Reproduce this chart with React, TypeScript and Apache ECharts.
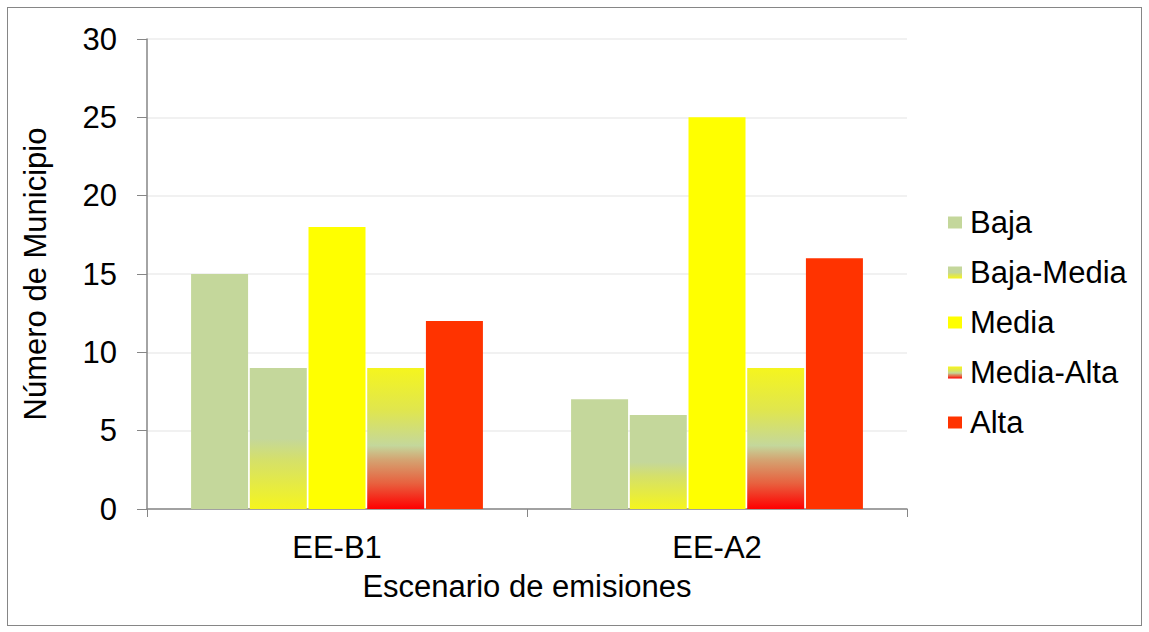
import React, { useEffect, useRef } from "react";
import * as echarts from "echarts";

const categories = ["EE-B1", "EE-A2"];
const seriesNames = ["Baja", "Baja-Media", "Media", "Media-Alta", "Alta"];
const baja = [15, 7];
const bajaMedia = [9, 6];
const media = [18, 25];
const mediaAlta = [9, 9];
const alta = [12, 16];
const yTicks = [0, 5, 10, 15, 20, 25, 30];

const FONT = "'Liberation Sans', Arial, sans-serif";
const FS = 31;

const lg = (stops: [number, string][]) =>
  new echarts.graphic.LinearGradient(
    0,
    0,
    0,
    1,
    stops.map(([offset, color]) => ({ offset, color }))
  );

export default function App() {
  const ref = useRef<HTMLDivElement>(null);
  useEffect(() => {
    if (!ref.current) return;
    const chart = echarts.init(ref.current, null, { renderer: "svg" });
    const colors = [
      "#c4d79b",
      lg([
        [0, "#c4d79b"],
        [0.5, "#c4d79b"],
        [0.65, "#d5e06a"],
        [1, "#f5f51e"],
      ]),
      "#ffff00",
      lg([
        [0, "#f5f51e"],
        [0.3, "#e0e64e"],
        [0.55, "#c4d79b"],
        [0.65, "#d4a472"],
        [0.82, "#e8603e"],
        [1, "#ff0000"],
      ]),
      "#ff3300",
    ];
    const data = [baja, bajaMedia, media, mediaAlta, alta];
    chart.setOption({
      animation: false,
      grid: { left: 139, top: 31, width: 760, height: 470, containLabel: false },
      legend: {
        orient: "vertical",
        left: 935,
        top: 194,
        itemWidth: 14,
        itemHeight: 12,
        itemGap: 19,
        icon: "rect",
        data: seriesNames,
        textStyle: { fontFamily: FONT, fontSize: FS, color: "#000", padding: [0, 0, 0, 3] },
      },
      xAxis: {
        type: "category",
        data: categories,
        name: "Escenario de emisiones",
        nameLocation: "middle",
        nameGap: 62,
        nameTextStyle: { fontFamily: FONT, fontSize: FS, color: "#000" },
        axisLine: { lineStyle: { color: "#868686", width: 1.5 } },
        axisTick: { show: true, length: 8, lineStyle: { color: "#868686" } },
        axisLabel: { fontFamily: FONT, fontSize: FS, color: "#000", margin: 23 },
      },
      yAxis: {
        type: "value",
        min: 0,
        max: 30,
        interval: 5,
        name: "Número de Municipio",
        nameLocation: "middle",
        nameGap: 96,
        nameTextStyle: { fontFamily: FONT, fontSize: FS, color: "#000" },
        axisLine: { show: true, lineStyle: { color: "#868686", width: 1.5 } },
        axisTick: { show: true, length: 10, lineStyle: { color: "#868686" } },
        axisLabel: {
          fontFamily: FONT,
          fontSize: FS,
          color: "#000",
          margin: 30,
          formatter: (v: number) => (yTicks.includes(v) ? String(v) : ""),
        },
        splitLine: { lineStyle: { color: "#ececec", width: 1.5 } },
      },
      series: seriesNames.map((name, i) => ({
        name,
        type: "bar",
        data: data[i],
        barWidth: 57,
        barGap: "3%",
        itemStyle: { color: colors[i] },
      })),
    });
    return () => chart.dispose();
  }, []);
  return (
    <div
      style={{
        position: "absolute",
        left: 7,
        top: 7,
        width: 1135,
        height: 619,
        border: "1px solid #868686",
        boxSizing: "border-box",
        background: "#fff",
      }}
    >
      <div ref={ref} style={{ position: "absolute", left: 0, top: 0, width: 1133, height: 617 }} />
    </div>
  );
}
